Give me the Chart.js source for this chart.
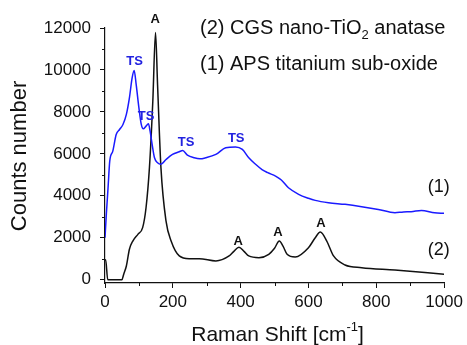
<!DOCTYPE html>
<html>
<head>
<meta charset="utf-8">
<script src="https://cdn.jsdelivr.net/npm/chart.js@4.4.0/dist/chart.umd.min.js"></script>
<style>
    html, body { margin: 0; padding: 0; background: #fff; }
</style>
</head>
<body>
<canvas id="ramanChart" width="467" height="345"></canvas>
<script>
// (1) APS titanium sub-oxide  (blue)
const shiftAPS = [0, 4, 9, 14, 23, 33, 43, 53, 63, 72, 80, 86, 92, 100, 107, 113, 121, 128, 133, 139,
    146, 155, 165, 180, 199, 219, 229, 243, 263, 280, 297, 327, 356, 385, 405, 424, 444, 463, 480, 503,
    520, 541, 571, 600, 620, 659, 708, 757, 806, 855, 880, 903, 933, 972, 1000];
const countsAPS = [2000, 3130, 4380, 5650, 6130, 6920, 7160, 7400, 7880, 8670, 9620, 9970, 9300, 8190, 7400, 7190, 7320, 7430, 7080, 6450,
    5810, 5570, 5500, 5730, 5970, 6100, 6160, 5940, 5810, 5760, 5810, 5970, 6290, 6330, 6210, 5810, 5500, 5250, 5100, 4940,
    4750, 4380, 4070, 3880, 3780, 3670, 3590, 3480, 3350, 3190, 3230, 3240, 3300, 3190, 3160];

// (2) CGS nano-TiO2 anatase  (black)
const shiftCGS = [0, 2, 8, 50, 55, 63, 72, 82, 97, 111, 121, 131, 141, 149, 155, 165, 180, 195, 219, 248,
    278, 327, 366, 380, 395, 410, 424, 454, 483, 500, 514, 525, 537, 561, 600, 620, 635, 654, 674, 708,
    757, 855, 952, 1000];
const countsCGS = [900, 950, 0, 0, 250, 650, 1450, 1840, 2160, 2480, 3430, 5330, 8510, 11790, 9300, 5330, 2790, 1840, 1130, 1000,
    1000, 890, 1130, 1350, 1550, 1350, 1130, 1050, 1210, 1500, 1840, 1600, 1210, 1080, 1520, 2000, 2270, 1840, 1130, 700,
    570, 460, 330, 260];

// axis ticks
const xTicks = [0, 200, 400, 600, 800, 1000];
const xMinor = [100, 300, 500, 700, 900];
const yTicks = [0, 2000, 4000, 6000, 8000, 10000, 12000];
const yMinor = [1000, 3000, 5000, 7000, 9000, 11000];

// peak labels
const anataseShift = [148, 393, 510, 637];
const anataseCounts = [12390, 1830, 2230, 2660];
const suboxideShift = [87, 121, 239, 387];
const suboxideCounts = [10410, 7790, 6560, 6750];

// curve numbers at the right
const curveNames = ['(1)', '(2)'];
const curveNameShift = [984, 984];
const curveNameCounts = [4416, 1397];

const FONT = '"Liberation Sans", Arial, sans-serif';
const BLUE = '#1a1aff';
const INK = '#111';

const toPoints = (xs, ys) => xs.map((x, i) => ({ x: x, y: ys[i] }));

const decorPlugin = {
    id: 'decor',
    afterDraw(chart) {
        const ctx = chart.ctx;
        const xs = chart.scales.x;
        const ys = chart.scales.y;
        const area = chart.chartArea;
        ctx.save();

        // minor ticks
        ctx.strokeStyle = INK;
        ctx.lineWidth = 1;
        ctx.beginPath();
        xMinor.forEach(v => {
            const px = Math.round(xs.getPixelForValue(v)) + 0.5;
            ctx.moveTo(px, area.bottom);
            ctx.lineTo(px, area.bottom + 3);
        });
        yMinor.forEach(v => {
            const py = Math.round(ys.getPixelForValue(v)) + 0.5;
            ctx.moveTo(area.left, py);
            ctx.lineTo(area.left - 3, py);
        });
        ctx.stroke();

        // peak letters
        ctx.textAlign = 'center';
        ctx.textBaseline = 'middle';
        ctx.font = 'bold 13px ' + FONT;
        ctx.fillStyle = INK;
        anataseShift.forEach((s, i) => {
            ctx.fillText('A', xs.getPixelForValue(s), ys.getPixelForValue(anataseCounts[i]));
        });
        ctx.fillStyle = '#2222e0';
        suboxideShift.forEach((s, i) => {
            ctx.fillText('TS', xs.getPixelForValue(s), ys.getPixelForValue(suboxideCounts[i]));
        });

        // curve numbers
        ctx.font = '18px ' + FONT;
        ctx.fillStyle = INK;
        curveNames.forEach((n, i) => {
            ctx.fillText(n, xs.getPixelForValue(curveNameShift[i]), ys.getPixelForValue(curveNameCounts[i]));
        });

        // legend text
        ctx.textAlign = 'left';
        ctx.textBaseline = 'alphabetic';
        ctx.font = '20px ' + FONT;
        let x = 200;
        const line2 = '(2) CGS nano-TiO';
        ctx.fillText(line2, x, 34);
        x += ctx.measureText(line2).width;
        ctx.font = '13px ' + FONT;
        ctx.fillText('2', x, 39);
        x += ctx.measureText('2').width;
        ctx.font = '20px ' + FONT;
        ctx.fillText(' anatase', x, 34);
        ctx.fillText('(1) APS titanium sub-oxide', 200, 70);

        // x title
        ctx.font = '21px ' + FONT;
        const main = 'Raman Shift [cm';
        const wMain = ctx.measureText(main).width;
        ctx.font = '13px ' + FONT;
        const wSup = ctx.measureText('-1').width;
        ctx.font = '21px ' + FONT;
        const wEnd = ctx.measureText(']').width;
        let tx = (area.left + area.right) / 2 - (wMain + wSup + wEnd) / 2 + 3;
        ctx.fillText(main, tx, 341);
        tx += wMain;
        ctx.font = '13px ' + FONT;
        ctx.fillText('-1', tx, 331);
        tx += wSup;
        ctx.font = '21px ' + FONT;
        ctx.fillText(']', tx, 341);

        // y title
        ctx.translate(20, 156);
        ctx.rotate(-Math.PI / 2);
        ctx.textAlign = 'center';
        ctx.textBaseline = 'middle';
        ctx.font = '22px ' + FONT;
        ctx.fillText('Counts number', 0, 0);
        ctx.restore();
    }
};

const chart = new Chart(document.getElementById('ramanChart'), {
    type: 'line',
    data: {
        datasets: [{
            label: 'APS titanium sub-oxide',
            data: toPoints(shiftAPS, countsAPS),
            borderColor: BLUE,
            borderWidth: 1.5,
            pointRadius: 0,
            cubicInterpolationMode: 'monotone',
            fill: false
        }, {
            label: 'CGS nano-TiO2 anatase',
            data: toPoints(shiftCGS, countsCGS),
            borderColor: INK,
            borderWidth: 1.5,
            pointRadius: 0,
            cubicInterpolationMode: 'monotone',
            fill: false
        }]
    },
    options: {
        responsive: false,
        animation: false,
        layout: { padding: { top: 28, right: 22, left: 0, bottom: 0 } },
        plugins: {
            legend: { display: false },
            tooltip: { enabled: false }
        },
        scales: {
            x: {
                type: 'linear',
                min: 0,
                max: 1000,
                afterBuildTicks: s => { s.ticks = xTicks.map(v => ({ value: v })); },
                afterFit: s => { s.height = 62; },
                ticks: { color: INK, font: { family: FONT, size: 17 }, padding: 4, maxRotation: 0,
                    callback: v => String(v) },
                grid: { drawOnChartArea: false, tickLength: 5, color: INK, tickWidth: 1 },
                border: { color: INK, width: 1.2 }
            },
            y: {
                min: -160,
                max: 12000,
                afterBuildTicks: s => { s.ticks = yTicks.map(v => ({ value: v })); },
                afterFit: s => { s.width = 105; },
                ticks: { color: INK, font: { family: FONT, size: 17 }, padding: 9,
                    callback: v => String(v) },
                grid: { drawOnChartArea: false, tickLength: 5, color: INK, tickWidth: 1 },
                border: { color: INK, width: 1.2 }
            }
        }
    },
    plugins: [decorPlugin]
});
</script>
</body>
</html>
